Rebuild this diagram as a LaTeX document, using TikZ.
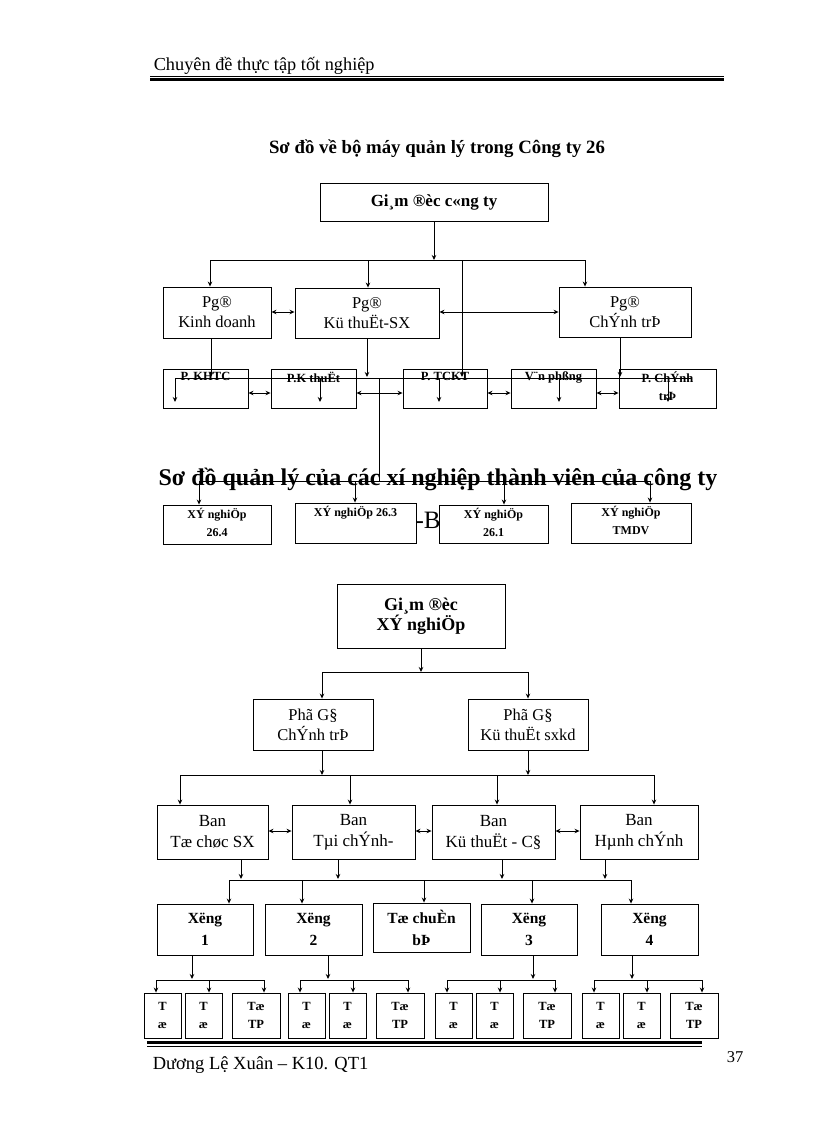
\documentclass[tikz,border=0pt]{standalone}
\usepackage{fontspec}
\setmainfont{Liberation Serif}
\usetikzlibrary{arrows.meta}

\begin{document}
\begin{tikzpicture}[x=1pt, y=-1pt, line width=0.9pt,
  main/.style = {draw, fill=white, inner sep=0pt, align=center, font=\fontsize{16.5}{20}\selectfont},
  ptext/.style = {anchor=north, inner sep=3pt, align=center, font=\bfseries\fontsize{12.5}{18}\selectfont},
  xtext/.style = {ptext, font=\bfseries\fontsize{12}{18}\selectfont},
  banbox/.style = {main, minimum height=54, font=\fontsize{17}{21}\selectfont},
  xgbox/.style = {main, font=\bfseries\fontsize{15.5}{22}\selectfont},
  tbox/.style = {main, minimum height=45, font=\bfseries\fontsize{12.5}{18}\selectfont},
  arr/.style = {-{Stealth[length=5pt, width=4.5pt]}},
  dbl/.style = {{Stealth[length=5pt, width=4.5pt]}-{Stealth[length=5pt, width=4.5pt]}}]
\fill[white] (0,0) rectangle (816,1123);
\useasboundingbox (0,0) rectangle (816,1123);

\node (31) [anchor=base west, font=\fontsize{18.3}{22}\selectfont] at (150,71) {Chuyên đề thực tập tốt nghiệp};
\draw[line width=0.8pt] (150,76.5) -- (724,76.5);
\draw[line width=2.5pt] (150,79.5) -- (724,79.5);
\node (32) [anchor=base, font=\bfseries\fontsize{18.8}{22}\selectfont] at (437,154) {Sơ đồ về bộ máy quản lý trong Công ty 26};
\node (33) [anchor=base, font=\bfseries\fontsize{24}{28}\selectfont] at (438,485) {Sơ đồ quản lý của các xí nghiệp thành viên của công ty};
\node (34) [anchor=base, font=\fontsize{25}{28}\selectfont] at (428,528) {-B};

\node[main, minimum width=228, minimum height=38, font=\bfseries\fontsize{17}{20}\selectfont] (1) at (434,202) {Gi¸m ®èc c«ng ty};
\node[main, minimum width=108, minimum height=51] (2) at (217,312.5) {Pg®\\Kinh  doanh};
\node[main, minimum width=144, minimum height=50] (3) at (367,313) {Pg®\\Kü thuËt-SX};
\node[main, minimum width=132, minimum height=50] (4) at (625,312) {Pg®\\ChÝnh  trÞ};

\node[main, minimum width=85, minimum height=39, label={[ptext]north:P. KHTC}] (5) at (205.5,388.5) {};
\node[main, minimum width=85, minimum height=39, label={[ptext]north:P.K thuËt}] (6) at (313.5,388.5) {};
\node[main, minimum width=84, minimum height=39, label={[ptext]north:P. TCKT}] (7) at (445,388.5) {};
\node[main, minimum width=85, minimum height=39, label={[ptext]north:V¨n phßng}] (8) at (553.5,388.5) {};
\node[main, minimum width=97, minimum height=39, label={[ptext]north:P. ChÝnh\\trÞ}] (9) at (667.5,388.5) {};

\node[main, minimum width=108, minimum height=39, label={[xtext]north:XÝ nghiÖp\\26.4}] (10) at (217,524.5) {};
\node[main, minimum width=121, minimum height=40, label={[xtext]north:XÝ nghiÖp 26.3}] (11) at (355.5,523) {};
\node[main, minimum width=109, minimum height=38, label={[xtext]north:XÝ nghiÖp\\26.1}] (12) at (493.5,524) {};
\node[main, minimum width=120, minimum height=40, label={[xtext]north:XÝ nghiÖp\\TMDV}] (13) at (631,523) {};

\draw[arr] (1.south) -- (1.south |- 0,260);
\draw (210,260) -- (585,260);
\draw[arr] (210,260) -- (2.north -| 210,0);
\draw[arr] (368,260) -- (3.north -| 368,0);
\draw[arr] (585,260) -- (4.north -| 585,0);
\draw[arr] (462,260) -- (462,377);
\draw[dbl] (2.east |- 0,312) -- (3.west |- 0,312);
\draw[dbl] (3.east |- 0,312) -- (4.west |- 0,312);
\draw[arr] (2.south -| 211,0) -- (211,377);
\draw[arr] (3.south -| 367,0) -- (367,377);
\draw[arr] (4.south -| 620,0) -- (620,377);
\draw (175,378) -- (692,378);
\foreach \x in {175,320,439,559,668} \draw[arr] (\x,378) -- (\x,402);
\foreach \p/\q in {5/6,6/7,7/8,8/9} \draw[dbl] (\p.east |- 0,393) -- (\q.west |- 0,393);
\draw (379,378) -- (379,481);
\draw (199,481) -- (650,481);
\foreach \x/\n in {199/10,355/11,504/12,650/13} \draw[arr] (\x,481) -- (\n.north -| \x,0);

\node[main, minimum width=168, minimum height=64, font=\bfseries\fontsize{18}{20}\selectfont] (14) at (421,616) {Gi¸m ®èc\\XÝ nghiÖp};
\node[main, minimum width=120, minimum height=51] (15) at (313,724.5) {Phã G§\\ChÝnh  trÞ};
\node[main, minimum width=120, minimum height=51] (16) at (528,724.5) {Phã G§\\Kü thuËt sxkd};

\node[banbox, minimum width=111] (17) at (212.5,832) {Ban\\Tæ chøc SX};
\node[banbox, minimum width=123] (18) at (353.5,832) {Ban\\Tµi chÝnh-};
\node[banbox, minimum width=123] (19) at (493.5,832) {Ban\\Kü thuËt - C§};
\node[banbox, minimum width=118] (20) at (639,832) {Ban\\Hµnh chÝnh};

\node[xgbox, minimum width=96, minimum height=51] (21) at (205,929.5) {Xëng\\1};
\node[xgbox, minimum width=97, minimum height=51] (22) at (313.5,929.5) {Xëng\\2};
\node[xgbox, minimum width=97, minimum height=49] (23) at (421.5,927.5) {Tæ chuÈn\\bÞ};
\node[xgbox, minimum width=96, minimum height=51] (24) at (529,929.5) {Xëng\\3};
\node[xgbox, minimum width=97, minimum height=51] (25) at (649.5,929.5) {Xëng\\4};

\draw[arr] (14.south) -- (14.south |- 0,672);
\draw (322,672) -- (528,672);
\draw[arr] (322,672) -- (15.north -| 322,0);
\draw[arr] (528,672) -- (16.north -| 528,0);
\draw[arr] (15.south -| 322,0) -- (322,775);
\draw[arr] (16.south -| 528,0) -- (528,775);
\draw (180,775) -- (654,775);
\foreach \x/\n in {180/17,350/18,497/19,654/20} \draw[arr] (\x,775) -- (\n.north -| \x,0);
\foreach \p/\q in {17/18,18/19,19/20} \draw[dbl] (\p.east |- 0,831) -- (\q.west |- 0,831);
\foreach \x/\n in {241/17,338/18,502/19,605/20} \draw[arr] (\n.south -| \x,0) -- (\x,879);
\draw (229,880) -- (631,880);
\foreach \x/\n in {229/21,302/22,424/23,532/24,631/25} \draw[arr] (\x,880) -- (\n.north -| \x,0);

\foreach \s/\d/\n in {144/192/21,288/328/22,435/533/24,582/632/25}{
  \node[tbox, minimum width=37] (a\n) at ({\s+18.5},1015.5) {T\\æ};
  \node[tbox, minimum width=37] (b\n) at ({\s+59.5},1015.5) {T\\æ};
  \node[tbox, minimum width=48] (c\n) at ({\s+112},1015.5) {Tæ\\TP};
  \draw[arr] (\n.south -| \d,0) -- (\d,979);
  \draw ({\s+12},980) -- ({\s+120},980);
  \draw[arr] ({\s+12},980) -- ([xshift=-6.5pt]a\n.north);
  \draw[arr] ({\s+65},980) -- ([xshift=5.5pt]b\n.north);
  \draw[arr] ({\s+120},980) -- ([xshift=8pt]c\n.north);
}

\draw[line width=2.5pt] (147,1042.5) -- (702,1042.5);
\draw[line width=0.8pt] (147,1046.5) -- (702,1046.5);
\node (35) [anchor=base west, font=\fontsize{18.5}{22}\selectfont] at (149,1069) {Dương Lệ Xuân – K10.  QT1};
\node (36) [anchor=base west, font=\fontsize{16.5}{20}\selectfont] at (723,1062) {37};
\end{tikzpicture}
\end{document}
